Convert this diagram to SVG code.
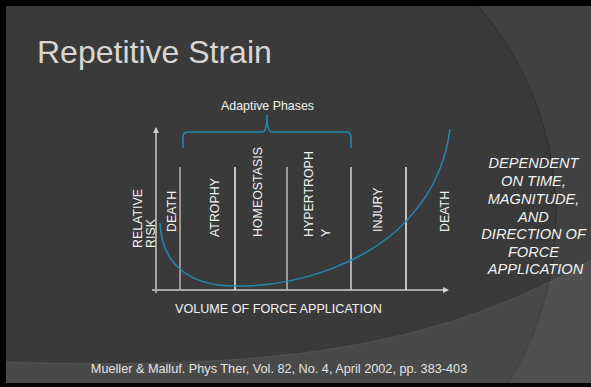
<svg xmlns="http://www.w3.org/2000/svg" width="591" height="387" viewBox="0 0 591 387">
<style>
.lbl{font-family:"Liberation Sans",Arial,sans-serif;fill:#f2f2f2;}
.rot{font-size:12.4px;}
.vl{stroke:#d4d4d4;stroke-width:1.5;fill:none;}
.ax{stroke:#a6a6a6;stroke-width:2;fill:none;}
.blue{stroke:#2189b0;stroke-width:1.5;fill:none;}
</style>
<defs>
<clipPath id="slide"><rect x="6" y="6" width="585" height="377"/></clipPath>
<marker id="arr" viewBox="0 0 6 6" refX="5" refY="3" markerWidth="3" markerHeight="3" orient="auto" markerUnits="strokeWidth">
<path d="M0,0 L6,3 L0,6 Z" fill="#d0d0d0"/>
</marker>
</defs>
<rect x="0" y="0" width="591" height="387" fill="#000"/>
<g id="background" clip-path="url(#slide)">
<rect x="6" y="6" width="585" height="377" fill="#3a3a3a"/>
<path d="M6,6 H591 V383 H6 Z M-81,215 a318.5,318.5 0 1,0 637,0 a318.5,318.5 0 1,0 -637,0 Z" fill="#fff" fill-opacity="0.04" fill-rule="evenodd"/>
<circle cx="237.5" cy="215" r="318.5" fill="none" stroke="#333" stroke-width="1.2"/>
<path d="M6,362 C300,372 450,340 591,260 L591,383 L6,383 Z" fill="#fff" fill-opacity="0.08"/>
<path d="M6,362 C300,372 450,340 591,260" fill="none" stroke="#555" stroke-width="0.8"/>
</g>
<g id="title"><text class="lbl" x="37" y="63" font-size="32" style="fill:#d9d6d2">Repetitive Strain</text></g>
<g id="connectors">
<line class="ax" x1="156" y1="293" x2="156" y2="128" marker-end="url(#arr)"/>
<line class="ax" x1="152" y1="290" x2="448" y2="290" marker-end="url(#arr)"/>
<line class="vl" x1="180" y1="167" x2="180" y2="290" style="stroke:#b4b4b4"/>
<line class="vl" x1="235" y1="167" x2="235" y2="290" style="stroke:#f4f4f4"/>
<line class="vl" x1="287" y1="167" x2="287" y2="290" style="stroke:#bcbcbc"/>
<line class="vl" x1="351" y1="167" x2="351" y2="290"/>
<line class="vl" x1="406" y1="167" x2="406" y2="290" style="stroke:#f0f0f0"/>
<path class="blue" d="M183,148 V137 Q183,132 188,132 H262 Q267,132 267,115 Q267,132 272,132 H346 Q351,132 351,137 V148"/>
<path class="blue" d="M160,223 C162,265 190,286 235,286 C300,287 360,262 395,232 C425,205 445,170 450,129"/>
</g>
<g id="adaptive-phases"><text class="lbl" x="267.5" y="110" font-size="12.4" text-anchor="middle">Adaptive Phases</text></g>
<g id="relative-risk">
<text class="lbl rot" transform="translate(141.5,248) rotate(-90)">RELATIVE</text>
<text class="lbl rot" transform="translate(155,248) rotate(-90)">RISK</text>
</g>
<g id="death-left"><text class="lbl rot" transform="translate(176,232) rotate(-90)">DEATH</text></g>
<g id="atrophy"><text class="lbl rot" transform="translate(219,237) rotate(-90)">ATROPHY</text></g>
<g id="homeostasis"><text class="lbl rot" transform="translate(262,237) rotate(-90)">HOMEOSTASIS</text></g>
<g id="hypertrophy">
<text class="lbl rot" transform="translate(313,237) rotate(-90)">HYPERTROPH</text>
<text class="lbl rot" transform="translate(330,237) rotate(-90)">Y</text>
</g>
<g id="injury"><text class="lbl rot" transform="translate(381.5,232) rotate(-90)">INJURY</text></g>
<g id="death-right"><text class="lbl rot" transform="translate(449,232) rotate(-90)">DEATH</text></g>
<g id="x-label"><text class="lbl" x="278.5" y="313" font-size="12.6" text-anchor="middle">VOLUME OF FORCE APPLICATION</text></g>
<g id="dependent" font-style="italic">
<text class="lbl" x="535.5" font-size="14.6" text-anchor="middle">
<tspan x="535.5" y="168">DEPENDENT</tspan>
<tspan x="535.5" y="186">ON TIME,</tspan>
<tspan x="535.5" y="204">MAGNITUDE,</tspan>
<tspan x="535.5" y="222">AND</tspan>
<tspan x="535.5" y="239">DIRECTION OF</tspan>
<tspan x="535.5" y="257">FORCE</tspan>
<tspan x="535.5" y="274">APPLICATION</tspan>
</text>
</g>
<g id="citation"><text class="lbl" x="279" y="373" font-size="12.7" text-anchor="middle" style="fill:#e4e4e4">Mueller &amp; Malluf. Phys Ther, Vol. 82, No. 4, April 2002, pp. 383-403</text></g>
</svg>
